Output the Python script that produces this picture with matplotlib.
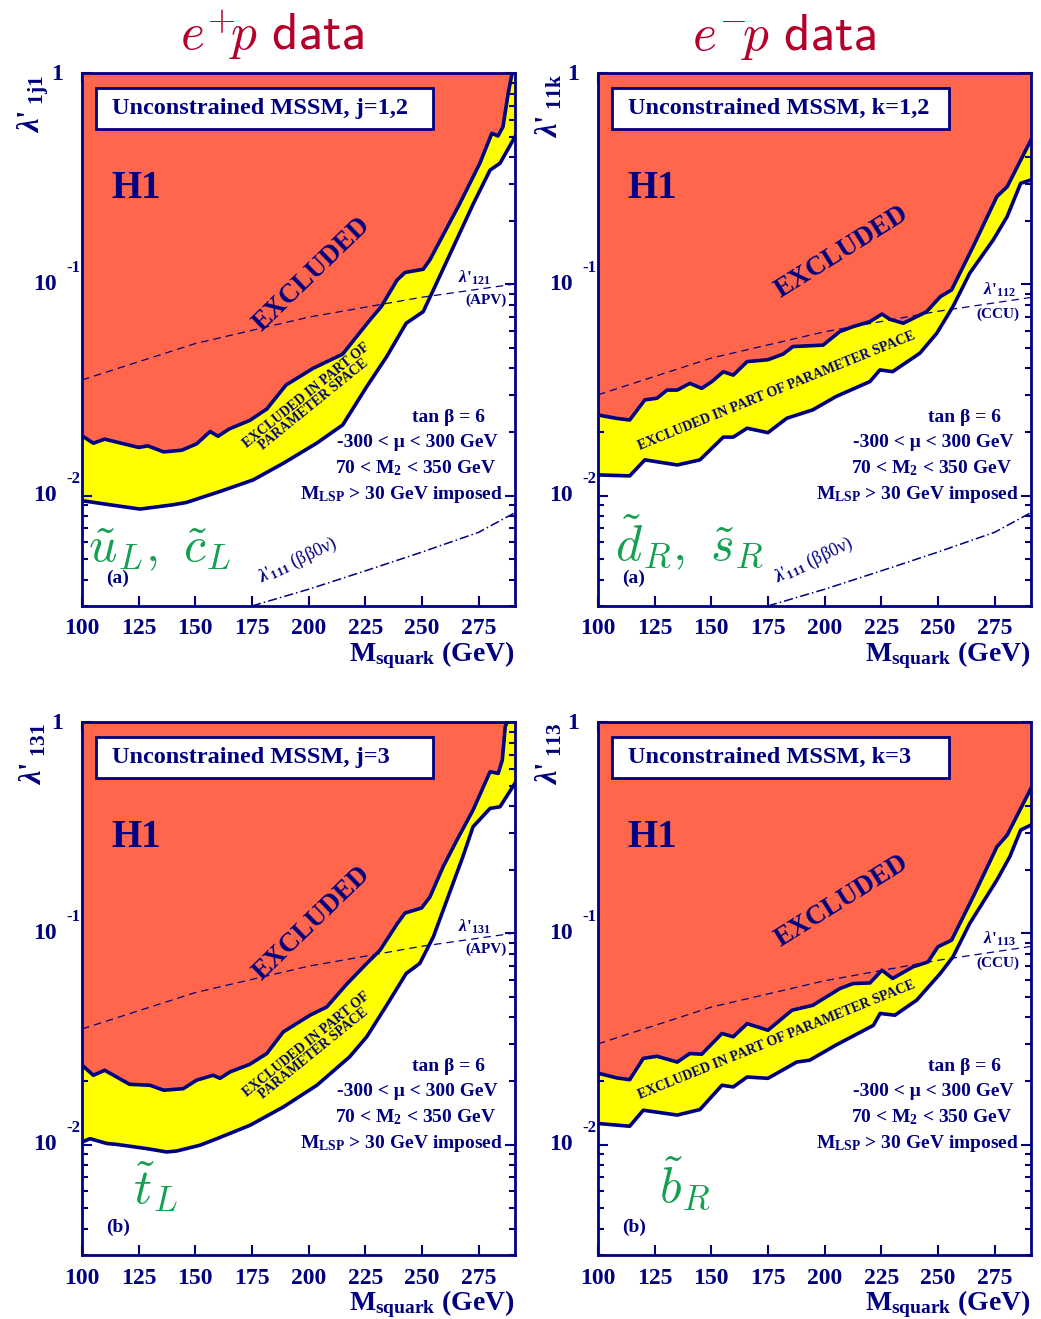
import numpy as np
import matplotlib
matplotlib.use("Agg")
import matplotlib.pyplot as plt
from matplotlib.patches import Rectangle
from matplotlib.ticker import LogLocator, NullFormatter, FixedLocator
import matplotlib.transforms as mtransforms

plt.rcParams['font.family'] = ['Liberation Serif', 'DejaVu Serif']
plt.rcParams['font.weight'] = 'bold'
plt.rcParams['mathtext.fontset'] = 'custom'
plt.rcParams['mathtext.rm'] = 'Liberation Serif:bold'
plt.rcParams['mathtext.bf'] = 'Liberation Serif:bold'
plt.rcParams['mathtext.it'] = 'Liberation Serif:italic:bold'

NAVY = '#000080'
RED = '#FF664C'
YELLOW = '#FFFF00'
GREEN = '#14A050'
TITLE = '#B4002A'

# ---- data (squark mass in GeV, coupling lambda') ----
# e+p, u_L / c_L  (lambda'_1j1, j=1,2)
m_uc_up = [100, 105, 110, 125, 129, 136, 144, 150.6, 156.5, 160, 165, 174, 181.5, 190, 202, 215,
           227, 232, 239, 242.5, 250.5, 253.5, 266.7, 275.5, 280.8, 283.5, 285.7, 288, 289.7, 291]
l_uc_up = [0.0192, 0.0177, 0.0185, 0.0169, 0.0172, 0.0161, 0.0164, 0.0176, 0.0201, 0.0191, 0.0207,
           0.0227, 0.0257, 0.0334, 0.0401, 0.0468, 0.0679, 0.0785, 0.105, 0.114, 0.118, 0.131,
           0.242, 0.375, 0.520, 0.505, 0.558, 0.804, 1.0, 1.5]
m_uc_lo = [100, 112.4, 125.6, 140, 146, 160.8, 175.5, 188.8, 203.5, 215, 225.6, 234.4, 243, 250.5,
           255, 272.7, 280, 284.4, 291]
l_uc_lo = [0.00946, 0.00904, 0.00863, 0.00904, 0.00927, 0.01045, 0.01186, 0.01422, 0.0177, 0.0216,
           0.0328, 0.0455, 0.0655, 0.0743, 0.0942, 0.242, 0.348, 0.375, 0.501]

# e-p, d_R / s_R  (lambda'_11k, k=1,2)
m_ds_up = [100, 108.3, 114, 120.7, 126, 130.5, 135, 140.5, 145.8, 150.3, 155.3, 159.7, 165.8, 175,
           181.7, 186, 199.3, 206.7, 212.5, 220, 225.3, 228.8, 234.7, 245, 251, 256, 265.5, 276,
           280.5, 291]
l_ds_up = [0.0241, 0.0232, 0.0228, 0.0284, 0.0289, 0.0316, 0.0316, 0.0340, 0.0322, 0.0347, 0.0386,
           0.0372, 0.0431, 0.0440, 0.0468, 0.0508, 0.0516, 0.0598, 0.0631, 0.0667, 0.0724, 0.0684,
           0.0655, 0.0743, 0.0875, 0.0942, 0.151, 0.261, 0.290, 0.483]
m_ds_lo = [100, 114, 120.7, 135, 145, 155.3, 159.7, 165.8, 175, 183.3, 194.8, 205, 220, 224.4, 230,
           242, 249.5, 256.6, 264, 274.4, 280.5, 286.5, 291]
l_ds_lo = [0.01253, 0.01239, 0.01476, 0.01396, 0.01476, 0.01892, 0.01892, 0.02084, 0.01986, 0.02323,
           0.02547, 0.02944, 0.03467, 0.03936, 0.03864, 0.04721, 0.05875, 0.07852, 0.1130, 0.1626,
           0.2094, 0.3013, 0.3126]

# e+p, t_L  (lambda'_131)
m_t_up = [100, 105, 110, 121, 130, 136, 144.6, 150.6, 157.8, 160.9, 165.3, 174, 181.5, 188.8, 200.6,
          208, 217, 225.6, 231.5, 239, 242.5, 249.8, 253.5, 259.3, 265.4, 272.5, 280, 283.6, 285.4,
          286.7, 287.5, 291]
l_t_up = [0.0238, 0.0213, 0.0225, 0.0193, 0.0191, 0.0181, 0.0184, 0.0202, 0.0213, 0.0206, 0.0221,
          0.0240, 0.0270, 0.0342, 0.0410, 0.0449, 0.0579, 0.0721, 0.0834, 0.111, 0.125, 0.132,
          0.149, 0.207, 0.277, 0.384, 0.583, 0.573, 0.662, 0.953, 1.0, 1.5]
m_t_lo = [100, 103.5, 111, 115.4, 128.6, 137.4, 141.8, 152, 159.5, 174, 188.8, 203.6, 218, 225.6,
          234.4, 243, 249, 255, 268, 272.5, 280, 284.4, 291]
l_t_lo = [0.01028, 0.01067, 0.01012, 0.01002, 0.00957, 0.00923, 0.00933, 0.00993, 0.01067, 0.01233,
          0.01507, 0.0191, 0.0260, 0.0324, 0.0457, 0.0646, 0.0721, 0.0964, 0.2307, 0.320, 0.391,
          0.398, 0.514]

# e-p, b_R  (lambda'_113)
m_b_up = [100, 108.3, 114, 120, 126, 135, 140.5, 145.8, 154.7, 159.7, 165.8, 175, 185.6, 194.8,
          206.7, 212.5, 220, 225.3, 230, 239, 245.6, 250, 256, 265.5, 276, 280.5, 291]
l_b_up = [0.0218, 0.0207, 0.0203, 0.0256, 0.0262, 0.0246, 0.0270, 0.0268, 0.0336, 0.0324, 0.0374,
          0.0348, 0.0433, 0.0457, 0.0548, 0.0579, 0.0583, 0.0670, 0.0612, 0.0695, 0.0733, 0.0865,
          0.0929, 0.149, 0.257, 0.292, 0.486]
m_b_lo = [100, 114, 120, 135, 145, 154.7, 159.7, 165.8, 175, 187.7, 193.4, 205, 221.5, 224.5, 231,
          240.6, 251, 256.6, 264, 276, 281.7, 286.5, 291]
l_b_lo = [0.01259, 0.01222, 0.01455, 0.01380, 0.01466, 0.0191, 0.01875, 0.0209, 0.0206, 0.0246,
          0.0251, 0.0296, 0.0367, 0.0418, 0.0410, 0.0483, 0.0646, 0.0774, 0.1114, 0.179, 0.231,
          0.309, 0.326]

# indirect bounds
m_ind = [100, 150, 200, 250, 291]
l_apv = [0.0353, 0.0525, 0.0700, 0.0870, 0.1005]
l_ccu = [0.0300, 0.0448, 0.0597, 0.0746, 0.0868]
m_bb = [175, 200, 225, 250, 275, 291]
l_bb = [0.0030, 0.0036, 0.0044, 0.0054, 0.0067, 0.0083]

x_ticks = [100, 125, 150, 175, 200, 225, 250, 275]


def draw_panel(ax, m_up, l_up, m_lo, l_lo, box_txt, ylab, ind_l, ind_name, ind_tag,
               squark, sq_pos, letter, left_panel, show_bb):
    ax.set_yscale('log')
    ax.set_xlim(100, 291)
    ax.set_ylim(0.003, 1.0)

    ax.fill_between(m_lo, l_lo, 10, color=YELLOW, lw=0, zorder=1)
    ax.fill_between(m_up, l_up, 10, color=RED, lw=0, zorder=2)
    ax.plot(m_ind, ind_l, ls=(0, (6, 4)), color=NAVY, lw=0.9, zorder=3)
    if show_bb:
        ax.plot(m_bb, l_bb, ls=(0, (6, 2, 1, 2)), color=NAVY, lw=1.1, zorder=3)
    ax.plot(m_up, l_up, color=NAVY, lw=2.6, zorder=4, solid_joinstyle='round')
    ax.plot(m_lo, l_lo, color=NAVY, lw=2.6, zorder=4, solid_joinstyle='round')

    # axes styling
    for s in ax.spines.values():
        s.set_color(NAVY)
        s.set_linewidth(2)
        s.set_zorder(6)
    ax.xaxis.set_major_locator(FixedLocator(x_ticks))
    ax.set_xticklabels([str(v) for v in x_ticks])
    ax.yaxis.set_major_locator(FixedLocator([0.01, 0.1, 1.0]))
    ax.yaxis.set_minor_locator(LogLocator(base=10, subs=np.arange(2, 10)))
    ax.yaxis.set_major_formatter(NullFormatter())
    ax.yaxis.set_minor_formatter(NullFormatter())
    ax.tick_params(which='both', direction='in', top=True, right=True, color=NAVY, width=1.5,
                   zorder=6)
    ax.tick_params(which='major', length=7.5)
    ax.tick_params(which='minor', length=4)
    ax.tick_params(axis='x', labelsize=17, labelcolor=NAVY, pad=9)
    for lab in ax.get_xticklabels():
        lab.set_fontweight('bold')

    # y tick labels drawn as 10 with exponent
    tr = mtransforms.blended_transform_factory(ax.transAxes, ax.transData)
    for v, e in [(0.01, '-2'), (0.1, '-1')]:
        ax.text(-0.058, v, '10', transform=tr, ha='right', va='center', fontsize=17,
                color=NAVY, fontweight='bold')
        ax.text(-0.004, v * 1.2, e, transform=tr, ha='right', va='center', fontsize=12,
                color=NAVY, fontweight='bold')
    ax.text(-0.044, 0.985, '1', transform=tr, ha='right', va='center', fontsize=17,
            color=NAVY, fontweight='bold')

    # axis titles
    ax.text(-0.112, 0.998, ylab, transform=ax.transAxes, rotation=90, ha='center', va='top',
            fontsize=22, color=NAVY)
    ax.text(1.0, -0.104, r'M$_{\mathbf{squark}}$ (GeV)', transform=ax.transAxes, ha='right',
            va='baseline', fontsize=20, color=NAVY, fontweight='bold')

    # header box
    ax.add_patch(Rectangle((0.032, 0.8955), 0.779, 0.077, transform=ax.transAxes, fc='white',
                           ec=NAVY, lw=2, zorder=7))
    ax.text(0.069, 0.934, box_txt, transform=ax.transAxes, ha='left', va='center', fontsize=17.5,
            color=NAVY, fontweight='bold', zorder=8)
    ax.text(0.067, 0.783, 'H1', transform=ax.transAxes, ha='left', va='center', fontsize=28,
            color=NAVY, fontweight='bold', zorder=8)

    if left_panel:
        ax.text(0.531, 0.622, 'EXCLUDED', transform=ax.transAxes, rotation=44, ha='center',
                va='center', fontsize=19.5, color=NAVY, fontweight='bold', zorder=8,
                rotation_mode='anchor')
        ax.text(0.527, 0.387, 'EXCLUDED IN PART OF\nPARAMETER SPACE', transform=ax.transAxes,
                rotation=39, ha='center', va='center', fontsize=10, color=NAVY,
                fontweight='bold', zorder=8, rotation_mode='anchor', linespacing=0.95,
                multialignment='center')
    else:
        ax.text(0.5635, 0.664, 'EXCLUDED', transform=ax.transAxes, rotation=32, ha='center',
                va='center', fontsize=19.5, color=NAVY, fontweight='bold', zorder=8,
                rotation_mode='anchor')
        ax.text(0.413, 0.4036, 'EXCLUDED IN PART OF PARAMETER SPACE', transform=ax.transAxes,
                rotation=22, ha='center', va='center', fontsize=10, color=NAVY,
                fontweight='bold', zorder=8, rotation_mode='anchor')

    # parameter text
    par = [('tan β = 6', 0.931, 0.3454),
           ('-300 < μ < 300 GeV', 0.961, 0.298),
           ('70 < M$_2$ < 350 GeV', 0.956, 0.249),
           ('M$_{\\mathrm{LSP}}$ > 30 GeV imposed', 0.972, 0.2016)]
    for txt, xx, yy in par:
        ax.text(xx, yy, txt, transform=ax.transAxes, ha='right', va='baseline', fontsize=14,
                color=NAVY, fontweight='bold', zorder=8)

    # indirect bound labels
    if left_panel:
        ax.text(0.868, 0.608, r"$\lambda$'$_{\mathbf{" + ind_name + "}}$", transform=ax.transAxes,
                ha='left', va='baseline', fontsize=12.5, color=NAVY)
        ax.text(0.933, 0.5745, ind_tag, transform=ax.transAxes, ha='center', va='center',
                fontsize=11, color=NAVY, fontweight='bold')
    else:
        ax.text(0.889, 0.584, r"$\lambda$'$_{\mathbf{" + ind_name + "}}$", transform=ax.transAxes,
                ha='left', va='baseline', fontsize=12.5, color=NAVY)
        ax.text(0.924, 0.548, ind_tag, transform=ax.transAxes, ha='center', va='center',
                fontsize=11, color=NAVY, fontweight='bold')
    if show_bb:
        ax.text(0.415, 0.044, r"$\lambda$'$_{\mathrm{111}}$ (ββ0ν)", transform=ax.transAxes,
                rotation=25, ha='left', va='baseline', fontsize=13, color=NAVY,
                fontweight='normal', rotation_mode='anchor')

    ax.text(sq_pos[0], sq_pos[1], squark, transform=ax.transAxes, ha='left', va='baseline',
            fontsize=36, color=GREEN, math_fontfamily='cm', zorder=8)
    ax.text(0.083, 0.052, letter, transform=ax.transAxes, ha='center', va='center', fontsize=14,
            color=NAVY, fontweight='bold', zorder=8)


fig = plt.figure(figsize=(10.41, 13.19), dpi=100)
ax1 = fig.add_axes([0.0788, 0.5406, 0.4159, 0.4038])
ax2 = fig.add_axes([0.5744, 0.5406, 0.4159, 0.4038])
ax3 = fig.add_axes([0.0788, 0.0485, 0.4159, 0.4039])
ax4 = fig.add_axes([0.5744, 0.0485, 0.4159, 0.4039])

draw_panel(ax1, m_uc_up, l_uc_up, m_uc_lo, l_uc_lo, 'Unconstrained MSSM, j=1,2',
           r"$\lambda$'$_{\ \mathbf{1j1}}$", l_apv, '121', '(APV)',
           r'$\tilde{u}_L,\ \tilde{c}_L$', (0.014, 0.083), '(a)', True, True)
draw_panel(ax2, m_ds_up, l_ds_up, m_ds_lo, l_ds_lo, 'Unconstrained MSSM, k=1,2',
           r"$\lambda$'$_{\ \mathbf{11k}}$", l_ccu, '112', '(CCU)',
           r'$\tilde{d}_R,\ \tilde{s}_R$', (0.040, 0.085), '(a)', False, True)
draw_panel(ax3, m_t_up, l_t_up, m_t_lo, l_t_lo, 'Unconstrained MSSM, j=3',
           r"$\lambda$'$_{\ \mathbf{131}}$", l_apv, '131', '(APV)',
           r'$\tilde{t}_L$', (0.118, 0.096), '(b)', True, False)
draw_panel(ax4, m_b_up, l_b_up, m_b_lo, l_b_lo, 'Unconstrained MSSM, k=3',
           r"$\lambda$'$_{\ \mathbf{113}}$", l_ccu, '113', '(CCU)',
           r'$\tilde{b}_R$', (0.140, 0.100), '(b)', False, False)

fig.text(0.261, 0.962, r'$e^{+}\!p\ \mathsf{data}$', ha='center', va='baseline', fontsize=37,
         color=TITLE, math_fontfamily='cm')
fig.text(0.753, 0.962, r'$e^{-}\!p\ \mathsf{data}$', ha='center', va='baseline', fontsize=37,
         color=TITLE, math_fontfamily='cm')

fig.savefig('out.png', dpi=100)
